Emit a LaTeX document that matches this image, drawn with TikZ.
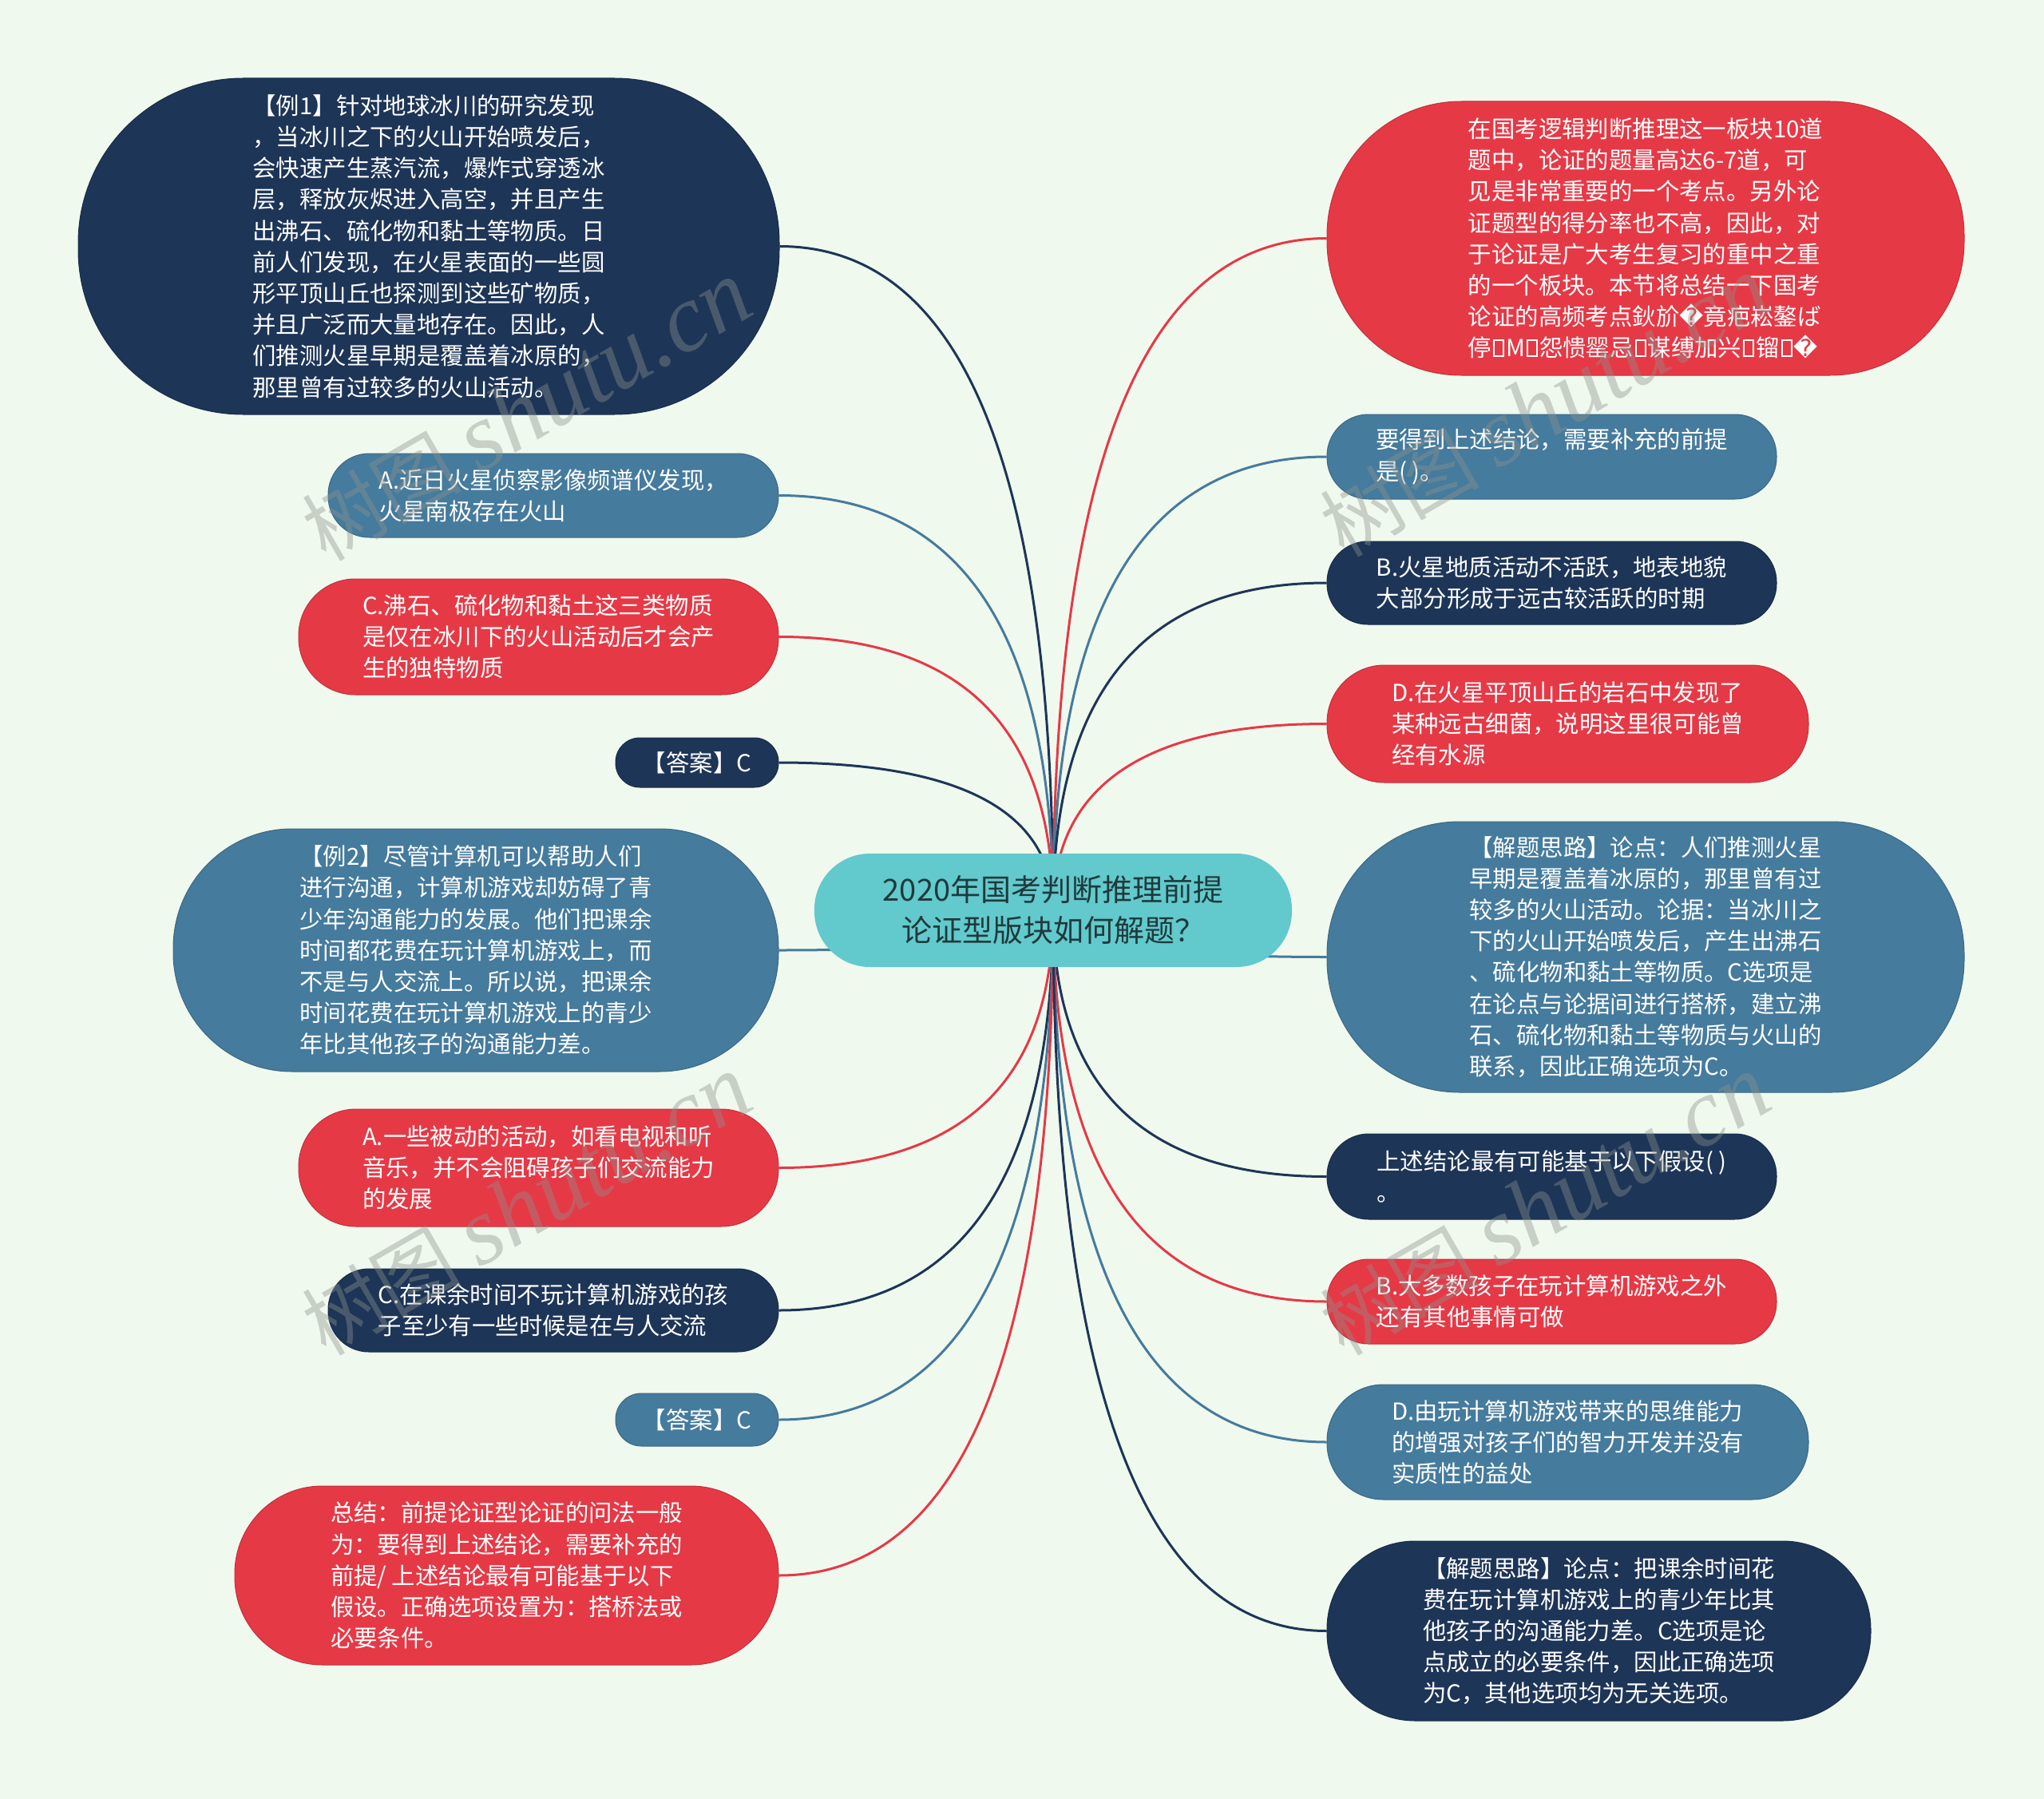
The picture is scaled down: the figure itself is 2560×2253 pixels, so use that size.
\documentclass[tikz,border=0pt]{standalone}
\usepackage{fontspec}
\setmainfont{Noto Sans CJK SC}
\newfontfamily\dv{DejaVu Sans}
\newfontfamily\wmlat{Liberation Serif}
\newfontfamily\wmcjk{Noto Sans CJK SC}
\usetikzlibrary{calc}
\definecolor{navyC}{HTML}{1D3557}
\definecolor{blueC}{HTML}{457B9D}
\definecolor{redC}{HTML}{E63946}
\definecolor{rootC}{HTML}{62C9CC}
\definecolor{bgC}{HTML}{F0F9EE}
\definecolor{rootT}{HTML}{1F3A3D}
\definecolor{wmC}{RGB}{140,146,140}
\pgfdeclarelayer{bgl}
\pgfdeclarelayer{edges}
\pgfdeclarelayer{wml}
\pgfsetlayers{bgl,edges,main,wml}
\tikzset{
  nd/.style={inner sep=0pt, align=left, text=white, font=\fontsize{29.4}{39.2}\selectfont, line width=1pt},
  navyN/.style={nd, fill=navyC, draw=navyC!85!black},
  blueN/.style={nd, fill=blueC, draw=blueC!85!black},
  redN/.style={nd, fill=redC, draw=redC!85!black},
  sz/.style 2 args={minimum width=#1pt, minimum height=#2pt, rounded corners=#2*0.49pt},
  wmk/.style={text=wmC, opacity=0.4, rotate=30, inner sep=0pt},
  conn/.style={line width=3pt}
}
\newcommand\mmlink[3]{\draw[conn,#1] (#2.#3) .. controls ($(#2.#3)!0.6667!(#2.#3 -| root.center)$) and ($(root.center)!0.6667!(#2.#3 -| root.center)$) .. (root.center);}
\newcommand\tofu{\kern2pt\vbox{\hrule height 2pt\hbox{\vrule width 2pt height 18pt\kern10pt\vrule width 2pt}\hrule height 2pt}\kern2pt}
\newcommand\repl{{\dv �}}
\newcommand\wmtext{{\wmcjk\fontsize{100}{100}\selectfont 树图 }{\wmlat\itshape\fontsize{120}{120}\selectfont shutu.cn}}
\begin{document}
\begin{tikzpicture}[x=1pt,y=-1pt]
\begin{pgfonlayer}{bgl}
\fill[bgC] (0,0) rectangle (2560,2253);
\end{pgfonlayer}
\useasboundingbox (0,0) rectangle (2560,2253);

% root
\node[inner sep=0pt, align=center, fill=rootC, text=rootT, font=\fontsize{38}{51}\selectfont, sz={598}{142}] (root) at (1319,1140) {2020年国考判断推理前提\\论证型版块如何解题？};

% left side
\node[navyN, sz={878}{421}] (L1) at (537,308.5) {【例1】针对地球冰川的研究发现\\，当冰川之下的火山开始喷发后，\\会快速产生蒸汽流，爆炸式穿透冰\\层，释放灰烬进入高空，并且产生\\出沸石、硫化物和黏土等物质。日\\前人们发现，在火星表面的一些圆\\形平顶山丘也探测到这些矿物质，\\并且广泛而大量地存在。因此，人\\们推测火星早期是覆盖着冰原的，\\那里曾有过较多的火山活动。};
\node[blueN, sz={564}{105}] (L2) at (693,620.5) {A.近日火星侦察影像频谱仪发现，\\火星南极存在火山};
\node[redN, sz={601}{145}] (L3) at (674.5,797.5) {C.沸石、硫化物和黏土这三类物质\\是仅在冰川下的火山活动后才会产\\生的独特物质};
\node[navyN, sz={204}{62}] (L4) at (873,955) {【答案】C};
\node[blueN, sz={758}{304}] (L5) at (596,1190) {【例2】尽管计算机可以帮助人们\\进行沟通，计算机游戏却妨碍了青\\少年沟通能力的发展。他们把课余\\时间都花费在玩计算机游戏上，而\\不是与人交流上。所以说，把课余\\时间花费在玩计算机游戏上的青少\\年比其他孩子的沟通能力差。};
\node[redN, sz={601}{147}] (L6) at (674.5,1462.5) {A.一些被动的活动，如看电视和听\\音乐，并不会阻碍孩子们交流能力\\的发展};
\node[navyN, sz={564}{104}] (L7) at (693,1641) {C.在课余时间不玩计算机游戏的孩\\子至少有一些时候是在与人交流};
\node[blueN, sz={204}{66}] (L8) at (873,1778) {【答案】C};
\node[redN, sz={681}{224}] (L9) at (634.5,1973) {总结：前提论证型论证的问法一般\\为：要得到上述结论，需要补充的\\前提/ 上述结论最有可能基于以下\\假设。正确选项设置为：搭桥法或\\必要条件。};

% right side
\node[redN, sz={798}{343}] (R1) at (2061,298.5) {在国考逻辑判断推理这一板块10道\\题中，论证的题量高达6-7道，可\\见是非常重要的一个考点。另外论\\证题型的得分率也不高，因此，对\\于论证是广大考生复习的重中之重\\的一个板块。本节将总结一下国考\\论证的高频考点鈥斺\repl 竟疤崧鏊ば\\停\tofu M\tofu 怨愦罂忌\tofu 谋缚加兴\tofu 镏\tofu\repl};
\node[blueN, sz={563}{106}] (R2) at (1943.5,572) {要得到上述结论，需要补充的前提\\是( )。};
\node[navyN, sz={563}{104}] (R3) at (1943.5,730) {B.火星地质活动不活跃，地表地貌\\大部分形成于远古较活跃的时期};
\node[redN, sz={603}{147}] (R4) at (1963.5,906.5) {D.在火星平顶山丘的岩石中发现了\\某种远古细菌，说明这里很可能曾\\经有水源};
\node[blueN, sz={798}{339}] (R5) at (2061,1198.5) {【解题思路】论点：人们推测火星\\早期是覆盖着冰原的，那里曾有过\\较多的火山活动。论据：当冰川之\\下的火山开始喷发后，产生出沸石\\、硫化物和黏土等物质。C选项是\\在论点与论据间进行搭桥，建立沸\\石、硫化物和黏土等物质与火山的\\联系，因此正确选项为C。};
\node[navyN, sz={563}{107}] (R6) at (1943.5,1473.5) {上述结论最有可能基于以下假设( )\\。};
\node[redN, sz={563}{106}] (R7) at (1943.5,1630) {B.大多数孩子在玩计算机游戏之外\\还有其他事情可做};
\node[blueN, sz={603}{144}] (R8) at (1963.5,1806) {D.由玩计算机游戏带来的思维能力\\的增强对孩子们的智力开发并没有\\实质性的益处};
\node[navyN, sz={681}{225}] (R9) at (2002.5,2042.5) {【解题思路】论点：把课余时间花\\费在玩计算机游戏上的青少年比其\\他孩子的沟通能力差。C选项是论\\点成立的必要条件，因此正确选项\\为C，其他选项均为无关选项。};

% connectors
\begin{pgfonlayer}{edges}
\mmlink{navyC}{L1}{east}
\mmlink{blueC}{L2}{east}
\mmlink{redC}{L3}{east}
\mmlink{navyC}{L4}{east}
\mmlink{blueC}{L5}{east}
\mmlink{redC}{L6}{east}
\mmlink{navyC}{L7}{east}
\mmlink{blueC}{L8}{east}
\mmlink{redC}{L9}{east}
\mmlink{redC}{R1}{west}
\mmlink{blueC}{R2}{west}
\mmlink{navyC}{R3}{west}
\mmlink{redC}{R4}{west}
\mmlink{blueC}{R5}{west}
\mmlink{navyC}{R6}{west}
\mmlink{redC}{R7}{west}
\mmlink{blueC}{R8}{west}
\mmlink{navyC}{R9}{west}
\end{pgfonlayer}

% watermarks
\begin{pgfonlayer}{wml}
\node[wmk] (W1) at (660,515) {\wmtext};
\node[wmk] (W2) at (1935,510) {\wmtext};
\node[wmk] (W3) at (660,1510) {\wmtext};
\node[wmk] (W4) at (1935,1510) {\wmtext};
\end{pgfonlayer}
\end{tikzpicture}
\end{document}
